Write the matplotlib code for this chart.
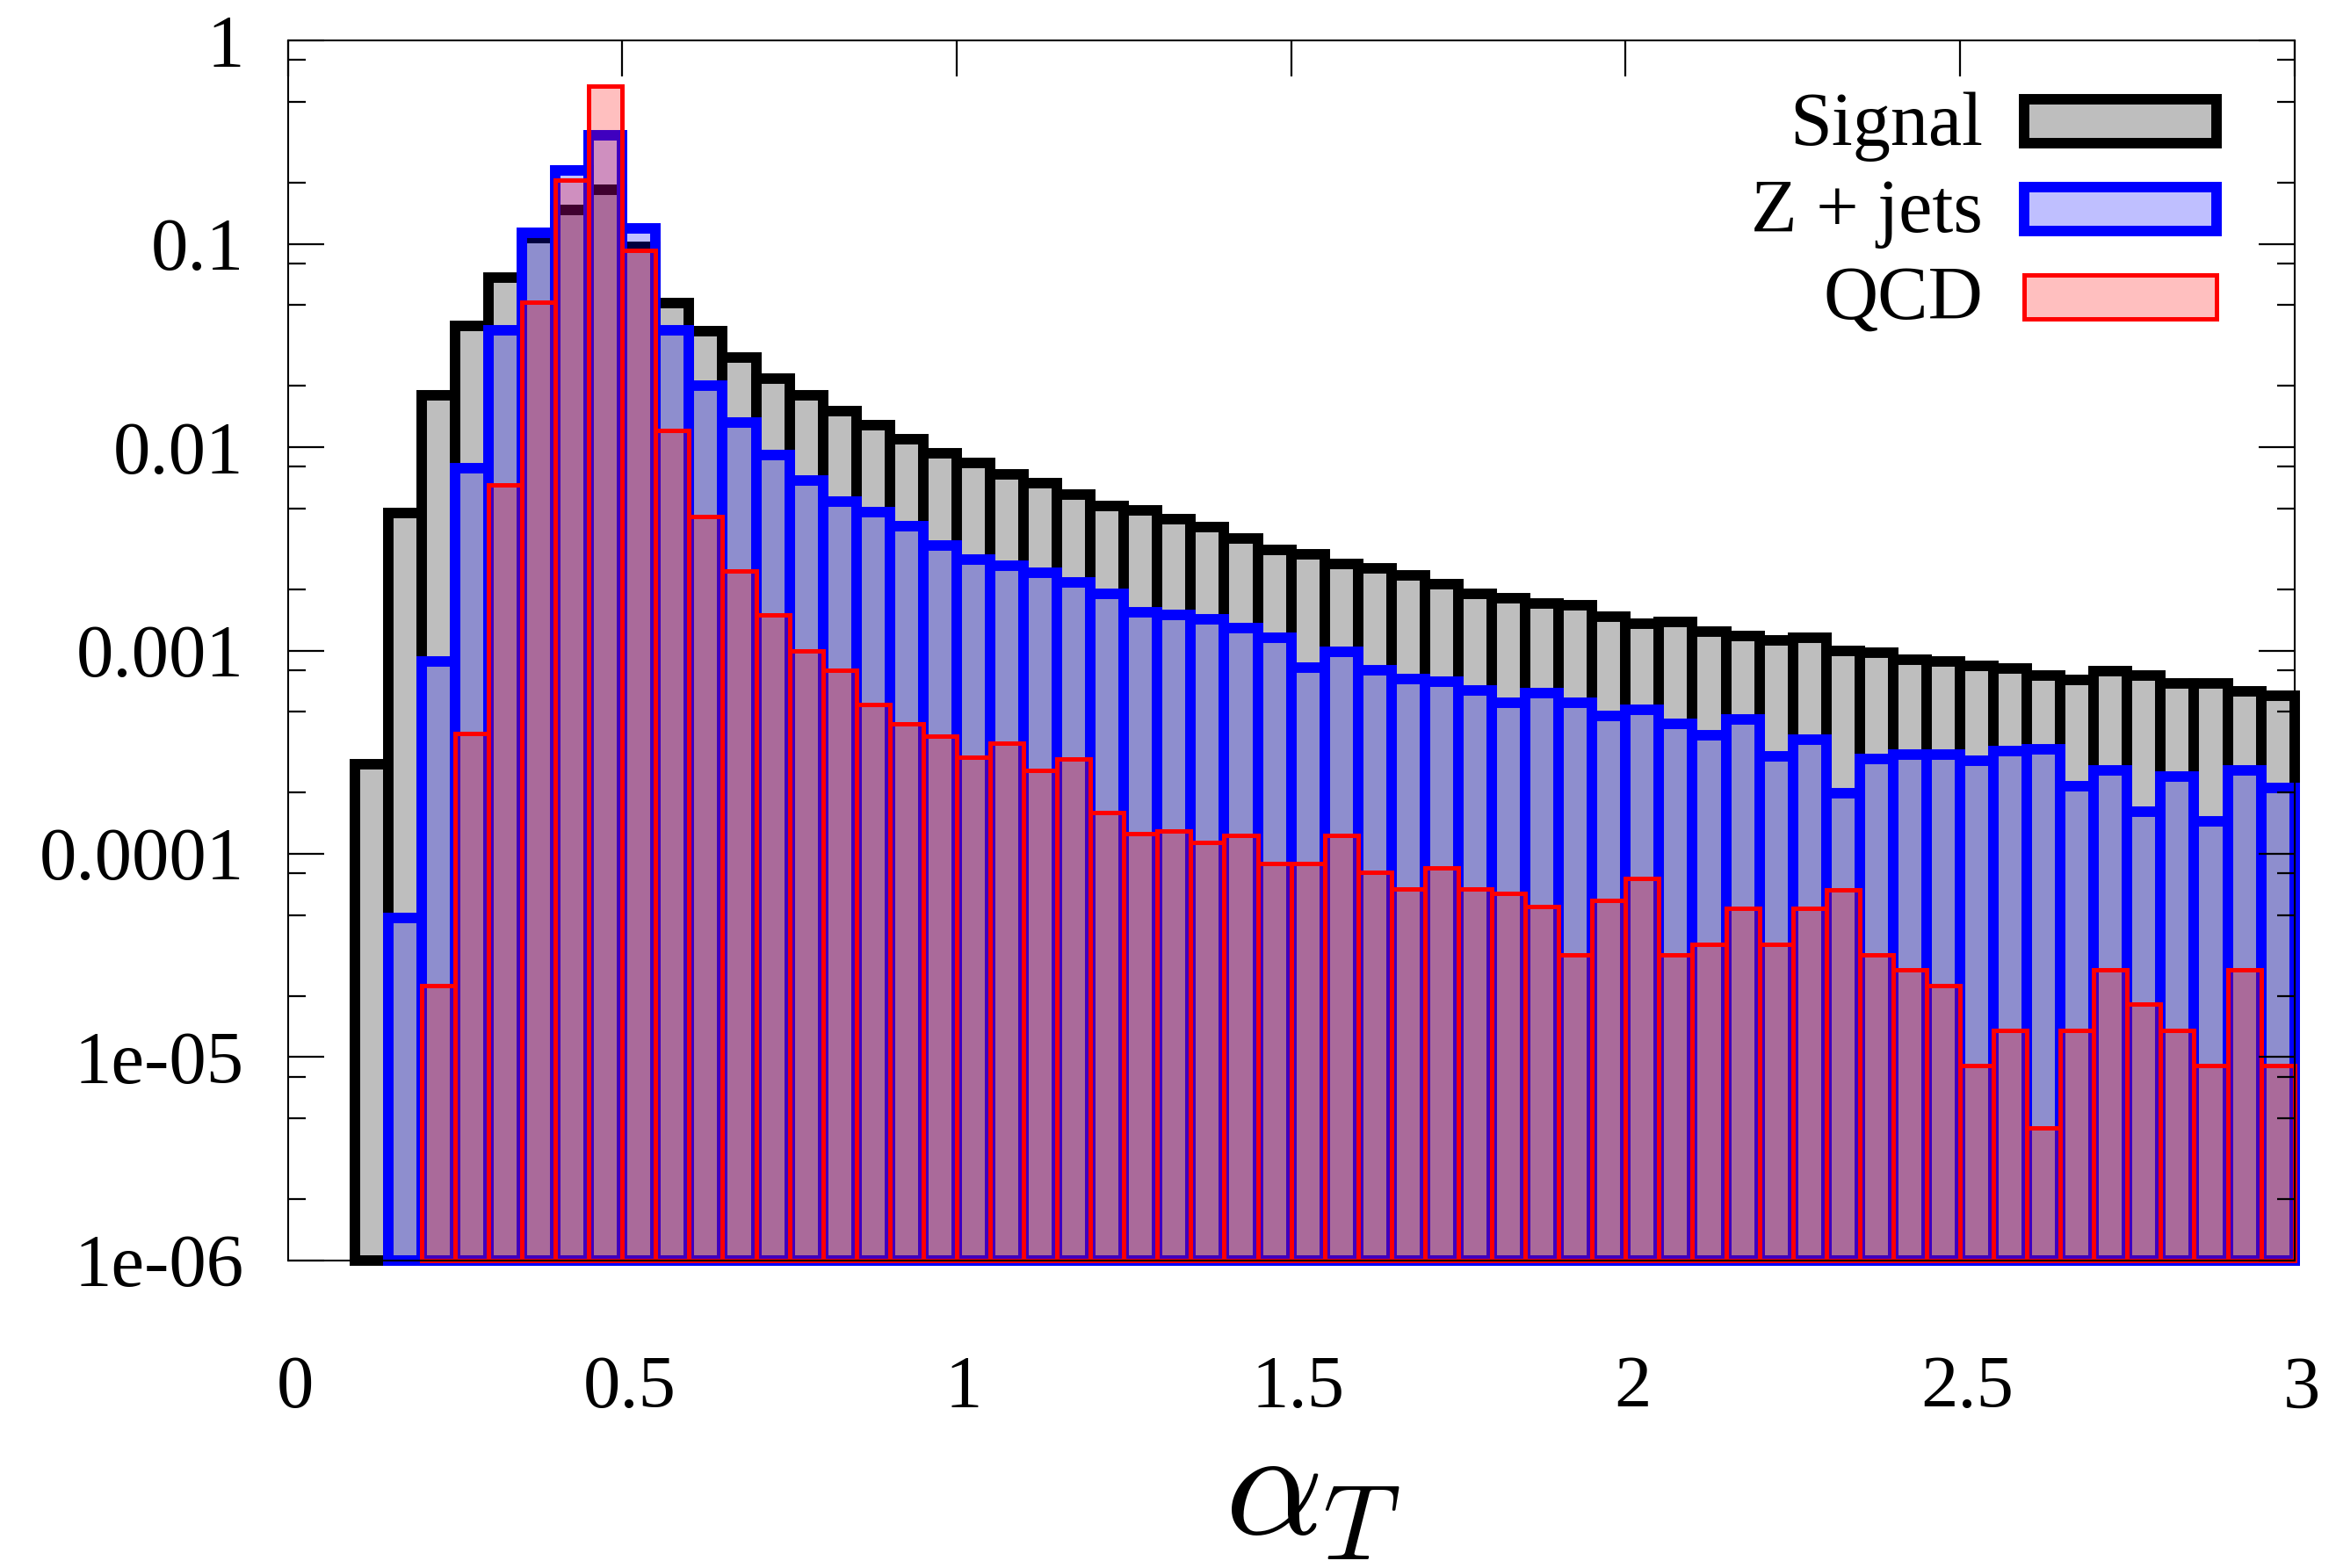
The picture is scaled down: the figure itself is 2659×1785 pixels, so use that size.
import numpy as np
import matplotlib
matplotlib.use("Agg")
import matplotlib.pyplot as plt
from matplotlib.patches import Rectangle
from matplotlib.ticker import LogLocator, NullFormatter, NullLocator
from matplotlib.transforms import ScaledTranslation

plt.rcParams['font.family'] = ['Liberation Serif', 'DejaVu Serif']
plt.rcParams['mathtext.fontset'] = 'cm'

# alpha_T bins: 0.10 .. 3.00 in steps of 0.05
bin_width = 0.05
bin_left = np.round(0.10 + bin_width * np.arange(58), 2)

# normalised distributions
signal = [0.000276, 0.00472, 0.0180, 0.0395, 0.0682, 0.107, 0.147, 0.185, 0.097, 0.0513,
          0.037, 0.0276, 0.0217, 0.0180, 0.0150, 0.0128, 0.0109, 0.00933, 0.00836, 0.00735,
          0.00668, 0.00585, 0.00514, 0.00489, 0.00442, 0.00404, 0.00357, 0.00312, 0.00297, 0.00266,
          0.00253, 0.00234, 0.00211, 0.0019, 0.0018, 0.00171, 0.00167, 0.00146, 0.00135, 0.00138,
          0.00124, 0.00118, 0.00112, 0.00115, 0.0010, 0.00098, 0.000905, 0.000883, 0.00084, 0.000815,
          0.000753, 0.000716, 0.000791, 0.000753, 0.000688, 0.000688, 0.00063, 0.0006]

# Z + jets starts in the second bin
zjets = [4.84e-5, 0.000887, 0.00784, 0.0375, 0.113, 0.229, 0.343, 0.119, 0.0375,
         0.0201, 0.0132, 0.00914, 0.00685, 0.0054, 0.00477, 0.00407, 0.00328, 0.0028, 0.0026,
         0.00241, 0.00217, 0.0019, 0.00154, 0.0015, 0.00143, 0.00129, 0.00116, 0.000824, 0.000986,
         0.0008, 0.000724, 0.000706, 0.000633, 0.000556, 0.000617, 0.000556, 0.000477, 0.000511, 0.000438,
         0.000383, 0.00046, 0.000301, 0.000365, 0.000199, 0.000294, 0.000309, 0.000309, 0.000287, 0.00032,
         0.000325, 0.000215, 0.000257, 0.000161, 0.00024, 0.000145, 0.000257, 0.000211]

# QCD starts in the third bin
qcd = [2.24e-5, 0.000391, 0.00649, 0.0516, 0.206, 0.599, 0.0928, 0.0121,
       0.00458, 0.00246, 0.0015, 0.0010, 0.000796, 0.000545, 0.000438, 0.000381, 0.0003, 0.00035,
       0.000256, 0.000293, 0.00016, 0.000126, 0.000129, 0.000114, 0.000123, 9.0e-5, 9.0e-5, 0.000123,
       8.15e-5, 6.75e-5, 8.5e-5, 6.75e-5, 6.36e-5, 5.48e-5, 3.17e-5, 5.9e-5, 7.6e-5, 3.17e-5,
       3.59e-5, 5.42e-5, 3.59e-5, 5.42e-5, 6.68e-5, 3.17e-5, 2.69e-5, 2.24e-5, 9.14e-6, 1.36e-5,
       4.51e-6, 1.36e-5, 2.69e-5, 1.82e-5, 1.36e-5, 9.14e-6, 2.69e-5, 9.14e-6]

labels = ["Signal", "Z + jets", "QCD"]

x_ticks = [0, 0.5, 1, 1.5, 2, 2.5, 3]
x_tick_labels = ["0", "0.5", "1", "1.5", "2", "2.5", "3"]
y_ticks = [1e-6, 1e-5, 1e-4, 1e-3, 1e-2, 1e-1, 1]
y_tick_labels = ["1e-06", "1e-05", "0.0001", "0.001", "0.01", "0.1", "1"]

floor = 1e-6

fig, ax = plt.subplots(figsize=(26.59, 17.85), dpi=100)
fig.subplots_adjust(left=0.1232, right=0.9822, top=0.9742, bottom=0.1961)

styles = [
    dict(facecolor="#bebebe", edgecolor="black", linewidth=8.6),
    dict(facecolor=(0, 0, 1, 0.25), edgecolor=(0, 0, 1, 1), linewidth=8.6),
    dict(facecolor=(1, 0, 0, 0.25), edgecolor=(1, 0, 0, 1), linewidth=3.6),
]

for k, (vals, st) in enumerate(zip([signal, zjets, qcd], styles)):
    vals = np.array(vals)
    x = bin_left[len(bin_left) - len(vals):]
    ax.bar(x, vals - floor, width=bin_width, bottom=floor, align="edge",
           zorder=1 + 0.1 * k, clip_on=False, **st)

ax.set_yscale("log")
ax.set_xlim(0, 3)
ax.set_ylim(1e-6, 1)

ax.set_xticks(x_ticks)
ax.set_xticklabels(x_tick_labels)
ax.set_yticks(y_ticks)
ax.set_yticklabels(y_tick_labels)
ax.yaxis.set_minor_locator(LogLocator(base=10, subs=[2, 5, 8]))
ax.yaxis.set_minor_formatter(NullFormatter())
ax.xaxis.set_minor_locator(NullLocator())

ax.set_axisbelow(False)
ax.tick_params(which="both", direction="in", top=True, right=True, width=1.6, labelsize=61)
ax.tick_params(which="major", length=29.5)
ax.tick_params(which="minor", length=14.5)
ax.tick_params(axis="x", bottom=False, labelbottom=True, pad=78)
ax.tick_params(axis="y", pad=36)
shift = ScaledTranslation(0.08, 0, fig.dpi_scale_trans)
for lab in ax.get_xticklabels():
    lab.set_transform(lab.get_transform() + shift)
for sp in ax.spines.values():
    sp.set_linewidth(1.5)
    sp.set_zorder(5)

# legend, drawn by hand to match the original key layout
key_x, key_w, key_h = 0.8653, 0.0959, 0.036
key_y = [0.9158, 0.8438, 0.7721]
text_y = [0.9143, 0.8431, 0.7718]
for lab, st, ky, ty in zip(labels, styles, key_y, text_y):
    ax.add_patch(Rectangle((key_x, ky), key_w, key_h, transform=ax.transAxes,
                           zorder=6, **st))
    ax.text(0.8447, ty, lab, transform=ax.transAxes, ha="right", va="baseline",
            fontsize=62, zorder=6)

fig.text(1494 / 2659, 1 - 1746 / 1785, r"$\alpha_T$", ha="center", va="baseline", fontsize=126)

fig.savefig("out.png", dpi=100)
